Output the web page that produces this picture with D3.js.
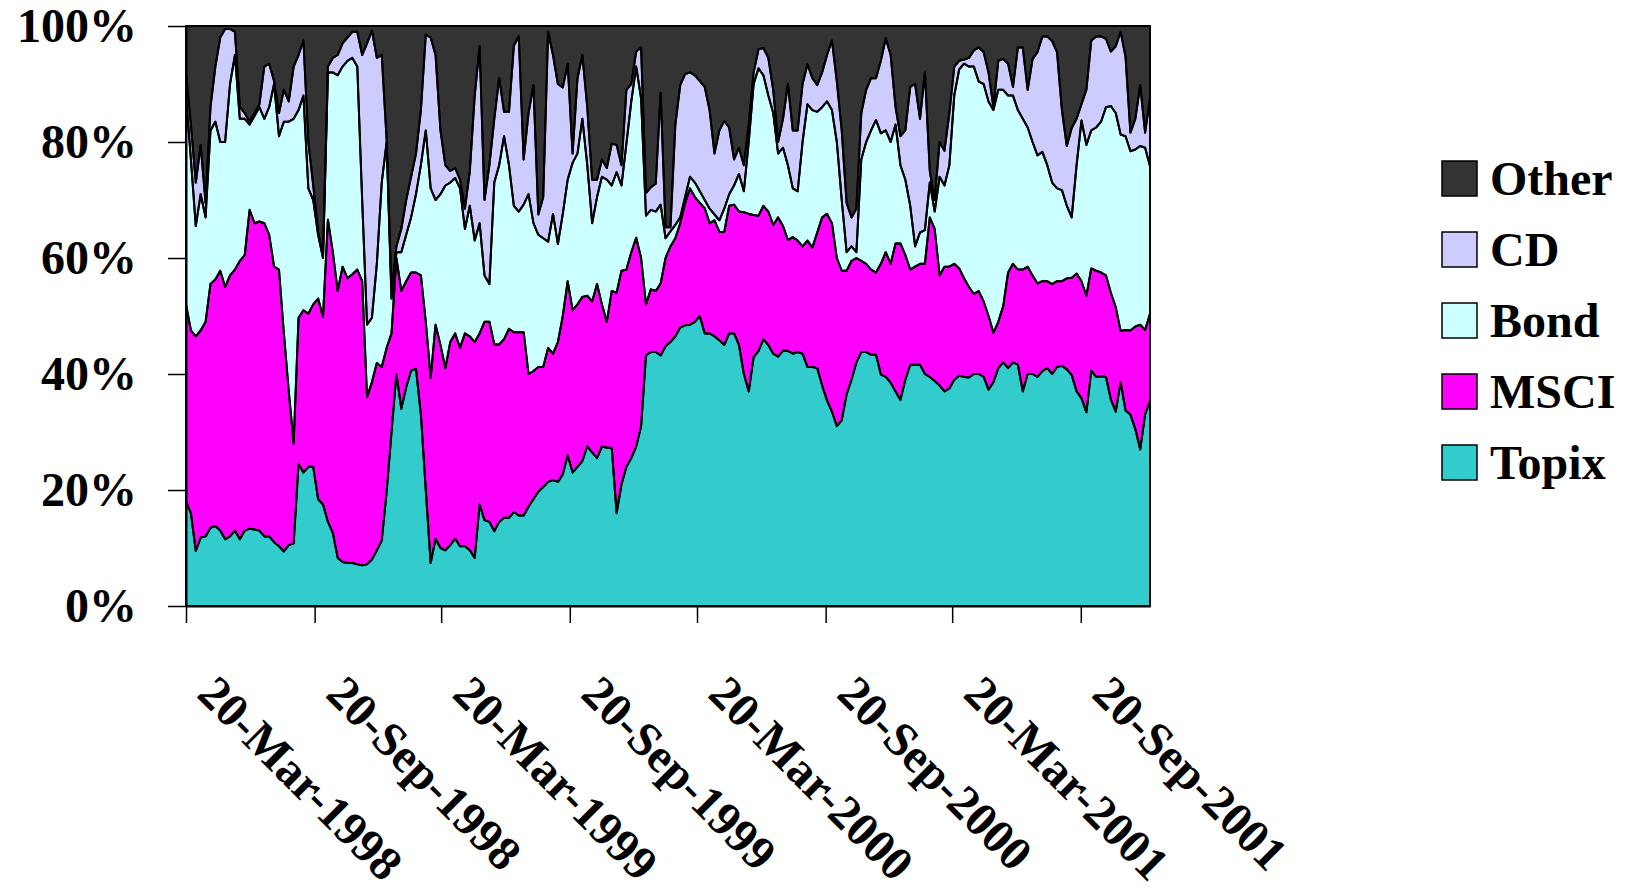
<!DOCTYPE html>
<html><head><meta charset="utf-8">
<script src="https://cdn.jsdelivr.net/npm/d3@7"></script>
<style>
body{margin:0;background:#fff}
svg{display:block}
text{font-family:"Liberation Serif","Times New Roman",serif;font-weight:bold;fill:#000}
</style>
</head><body>
<svg id="chart" width="1640" height="890"></svg>
<script>
// ---------- data ----------
const startDate = "20-Mar-1998";   // first weekly observation
const tickLabels = ["20-Mar-1998","20-Sep-1998","20-Mar-1999","20-Sep-1999",
                    "20-Mar-2000","20-Sep-2000","20-Mar-2001","20-Sep-2001"];
const yTicks = [0, 0.2, 0.4, 0.6, 0.8, 1];
const seriesNames = ["Topix","MSCI","Bond","CD","Other"];

const topix = [
18,16,9.5,11.8,12,13.5,13.8,13,11.5,12,
13,11.5,13,13.3,13.2,13,12,12,11,10.3,
9.4,10.5,10.8,24.5,23,24,24,18.4,17.5,14.5,
12.6,8.3,7.6,7.4,7.4,7.2,7,7.2,8,9.6,
11.3,19.7,30,40,34,37.7,40.6,40.9,33,20,
7.4,11.6,10,9.6,10.5,11.6,10.3,10.3,9.6,8.3,
17.5,14.8,14.5,12.9,14.5,15.2,15.2,16.2,15.6,15.6,
17.1,18.4,19.7,20.5,21.4,21.7,21.4,22.7,26,23,
24,25,27.5,26.5,25.5,27.5,27.3,27.3,16,21,
24,25.5,27.5,31,43.2,43.8,43.8,43.2,44.8,45.5,
46.5,48,48.4,48.5,49,50,47,47,46.5,45.8,
45,47,47,45,40,37,42.9,44,46,45,
43.5,43,44,44,43.5,43.8,43.5,41.2,41.2,41,
38,35.4,33.5,31,32,36.5,39,42,43.8,43.8,
43.3,43.3,39.9,39.5,38.5,37,35.5,39,41.6,41.6,
41.6,40,39.5,38.8,38,37,37.5,39,39.7,39.5,
39.4,40,40,39.5,37.3,38.6,41,42,41,42,
41.6,37,40,40,39.5,40.5,41,40,41.2,41.4,
40.8,39.8,37,35.8,33.4,40.6,39.5,39.6,39.5,35.6,
33.5,38.6,33.7,33,30.5,27,33,35.4];

const msci = [
34,31.5,37,35.7,37,42,42.5,44.8,43.5,45,
45,48,47.5,55,52.8,53.3,54,52,47.5,47.7,
37.6,26.5,17.2,25.2,28,26.4,28,34.6,32.3,52.1,
48.4,46,50.9,49.1,49.8,50.8,49,28.8,30.6,32.3,
29.9,24.8,17,20,20.3,18.3,16.9,16.6,24,29,
31.9,36.9,35,31.4,35,35.4,34.2,36.7,36.9,37.2,
29.5,34.2,34.5,32.2,30.6,30.8,32.6,31,31.6,31.6,
22.9,22.1,21.5,20.7,23.1,21.8,24.1,27.3,30,28,
28,28.3,26,26,30,24.5,21.7,27,38,36.8,
34,35.5,36,29,8.8,10.8,10.5,12.4,15.2,16.5,
16.9,18,21.1,23.5,21.5,19.5,21.6,19,20,18.7,
19.5,22,22.2,23,27.9,30.6,24.5,23.3,23,23,
22.2,24,21.5,19.1,20.1,19.2,18.5,21.8,20.6,23.4,
29,32.2,32.5,29,25.8,21.3,20.5,18,15.7,15.2,
14.7,14.2,19.1,21.5,20.5,25.5,27,21.5,16.4,16.9,
17.4,19,27.5,26.2,19,21.5,21,20,18.5,17,
15.6,13.8,14.3,13,12.7,8.5,8,9.7,16.5,17,
16.4,21,18.5,17,16.1,15.5,15,15.5,14.8,14.6,
15.7,16.8,20.3,20.2,20.1,17.6,18.3,17.9,17.5,18.4,
18,8.8,13.9,14.5,17.7,21.5,14.6,15];

const bond = [
36,29.5,19,23.5,18,26.5,27.2,22.2,25,33,
37,24.5,23.5,14.7,18.5,19.7,18,22,31.5,23,
36.5,46.5,56,35.8,37,21.6,18,11,10.2,25.4,
31,37.2,34.5,37.5,37.3,35,14,12.5,11.1,17.1,
31.8,35.5,6,1,6.7,8,9.5,13.5,19,33,
32.7,21.5,26,31.5,27.5,26.8,27.5,18,22.5,17.5,
19,8,6.5,27.9,30.9,35,28.2,21.8,20.8,22,
31,25.5,22.8,22.2,18.3,24.1,16.9,17.6,17.5,25.4,
26,30.7,22.5,13.5,15,22,24.5,18.2,20.8,14.7,
21.7,26,29.5,27.5,15.3,13.7,13.7,13.6,3.4,2.6,
2.3,1,1,2,2.5,2,1.4,2.5,1,2,
4,2,3.3,6.5,3.6,12.4,22.6,25.4,22.5,20,
19.3,11,13.5,12.9,8.4,8.5,18,23.5,23.7,20.8,
19,19.4,19.5,20,12.2,3.2,2.5,1,17.5,21,
24,26.3,22.5,21,21,20.5,13.5,13,11,3.5,
5.4,5.8,6,3,17,14,17.5,29,34.3,37,
38,39.2,36.1,37.5,37,38.4,40,37.3,30.5,29,
27.5,26,24,23,22.1,22.3,20,17.5,16,15.7,
12.5,10.4,18.7,27.7,26,23.8,24.7,26,29,32.2,
33.5,33.9,33.4,30.9,30.5,30.8,31.4,25.4];

const cd = [
4,6,7.5,8.5,2.5,4,9.5,18,19.5,9.5,
4,2,1,0.5,0.5,0.5,9,7.5,0.5,4,
5.5,3.5,9,9.5,9.5,8,2.5,0.5,0.5,1,
2.5,3.5,4,4,4.5,6,25,48.5,49.5,35.5,
22,0.5,1,1,4,6,7,7,9.5,16.5,
26,25,11,3.5,2,1.7,1.5,3.5,6,25,
30.5,13,20.5,11,15,4.2,9.2,27.6,30.2,7.8,
14,23.8,3.5,7.1,36.2,27.4,27.6,21.8,20,1.6,
13,11,10,7.5,3,3,2,7.2,4.7,3.5,
9.3,3,2.6,8.8,3.9,3.9,4.8,19.3,1.9,0.7,
17.3,22.8,21.2,18,18.5,19,19.5,17,10.5,15.5,
15.1,11.5,4.5,4.5,4.5,3,2,3.3,4.7,6.5,
4,2,5,14,10,10.5,10,6.9,5.5,4.6,
6,8,12,10.5,12,8.5,5,7.5,8,9,
9,7.2,12.5,15.9,15,3,5,8.5,20.5,28,
19.6,27.2,2,2,6,6,9,5,1.5,0.7,
1.5,2.8,5.9,5.5,5,0.5,5,5.3,5.5,1.5,
10.8,12.3,6.5,14.3,17.8,19.9,22.2,24.4,23.5,13.8,
10.3,15.4,8,2.8,9.5,15.5,15.7,14.7,11.8,9.4,
11.5,17.7,13.7,3.2,5.3,10.5,2.6,11.7];

const other = [
8,17,27,20.5,30.5,14,7,2,0.5,0.5,
1,14,15,16.5,15,13.5,7,6.5,9.5,15,
11,13,7,5,2.5,20,27.5,35.5,39.5,7,
5.5,5,3,2,1,1,5,3,0.8,5.5,
5,19.5,46,38,35,30,26,22,14.5,1.5,
2,5,18,24,25,24.5,26.5,31.5,25,12,
3.5,30,24,16,9,14.8,14.8,3.4,1.8,23,
15,10.2,32.5,29.5,1,5,10,10.6,6.5,22,
9,5,14,26.5,26.5,23,24.5,20.3,20.5,24,
11,10,4.4,3.7,28.8,27.8,27.2,11.5,34.7,34.7,
17,10.2,8.3,8,8.5,9.5,10.5,14.5,22,18,
16.4,17.5,23,21,24,17,8,4,3.8,5.5,
11,20,16,10,18,18,10,6.6,9,10.2,
8,5,2.5,9.5,18,30.5,33,31.5,15,11,
9,9,6,2.1,5,14,19,18,10.5,10,
16,8,25,30,20,21.5,15,7,6,5.8,
5.5,4.2,3.7,4.5,8,14,6,5.7,6.5,10.5,
3.7,3.7,11,5.7,4.5,1.8,1.8,2.6,4.5,14.5,
20.7,17.6,16,13.5,11,2.5,1.8,1.8,2.2,4.4,
3.5,1,5.3,18.4,16,10.2,18.4,12.5];

// ---------- styles ----------
const colors = {Topix:"#33CCCC", MSCI:"#FF00FF", Bond:"#CCFFFF", CD:"#CCCCFF", Other:"#333333"};

// ---------- build ----------
const parse = d3.utcParse("%d-%b-%Y");
const start = parse(startDate);
const dates = topix.map((_, i) => d3.utcDay.offset(start, 7 * i));
const seriesData = {Topix: topix, MSCI: msci, Bond: bond, CD: cd, Other: other};
const rows = dates.map((d, i) => {
  const r = {date: d};
  seriesNames.forEach(k => r[k] = seriesData[k][i]);
  return r;
});

const L = 186, R = 1150, T = 26, B = 606;
const svg = d3.select("#chart");

const x = d3.scaleUtc().domain([dates[0], dates[dates.length - 1]]).range([L, R]);
const y = d3.scaleLinear().domain([0, 1]).range([B, T]);

const stacked = d3.stack().keys(seriesNames).offset(d3.stackOffsetExpand)(rows);
const area = d3.area()
  .x(d => x(d.data.date))
  .y0(d => y(d[0]))
  .y1(d => y(d[1]));

const g = svg.append("g");
g.selectAll("path.fill").data(stacked).join("path")
  .attr("class", "fill")
  .attr("d", area)
  .attr("fill", d => colors[d.key])
  .attr("stroke", "none");
g.selectAll("path.edge").data(stacked).join("path")
  .attr("class", "edge")
  .attr("d", area)
  .attr("fill", "none")
  .attr("stroke", "#000")
  .attr("stroke-width", 2)
  .attr("stroke-linejoin", "round");

// plot border
svg.append("rect").attr("x", L).attr("y", T).attr("width", R - L).attr("height", B - T)
  .attr("fill", "none").attr("stroke", "#000").attr("stroke-width", 1.5);

// y axis
const yAxis = svg.append("g").attr("transform", `translate(${L},0)`)
  .call(d3.axisLeft(y).tickValues(yTicks).tickSize(18).tickSizeOuter(0).tickPadding(31).tickFormat(d3.format(".0%")));
yAxis.select(".domain").attr("stroke", "#000").attr("stroke-width", 2);
yAxis.selectAll(".tick line").attr("stroke", "#000").attr("stroke-width", 1.5);
yAxis.selectAll("text").style("font-size", "48px").style("font-family", '"Liberation Serif","Times New Roman",serif')
  .style("font-weight", "bold").attr("fill", "#000").attr("dy", "0.33em");

// x axis
const tickDates = tickLabels.map(parse);
const xAxis = svg.append("g").attr("transform", `translate(0,${B})`)
  .call(d3.axisBottom(x).tickValues(tickDates).tickSize(17).tickSizeOuter(0).tickFormat((d, i) => tickLabels[i]));
xAxis.select(".domain").attr("stroke", "#000").attr("stroke-width", 2);
xAxis.selectAll(".tick line").attr("stroke", "#000").attr("stroke-width", 1.5);
xAxis.selectAll("text")
  .attr("x", 0).attr("y", 0).attr("dy", 0)
  .attr("transform", "translate(9,90) rotate(45)")
  .style("text-anchor", "start")
  .style("font-size", "48px").style("font-family", '"Liberation Serif","Times New Roman",serif')
  .style("font-weight", "bold").attr("fill", "#000");

// legend
const legendOrder = seriesNames.slice().reverse();
const lg = svg.append("g");
legendOrder.forEach((k, i) => {
  const cy = 178.5 + i * 71;
  lg.append("rect").attr("x", 1442).attr("y", cy - 17.5).attr("width", 35).attr("height", 35)
    .attr("fill", colors[k]).attr("stroke", "#000").attr("stroke-width", 1.5);
  lg.append("text").attr("x", 1490).attr("y", cy + 16.5).style("font-size", "48px").text(k);
});
</script>
</body></html>
